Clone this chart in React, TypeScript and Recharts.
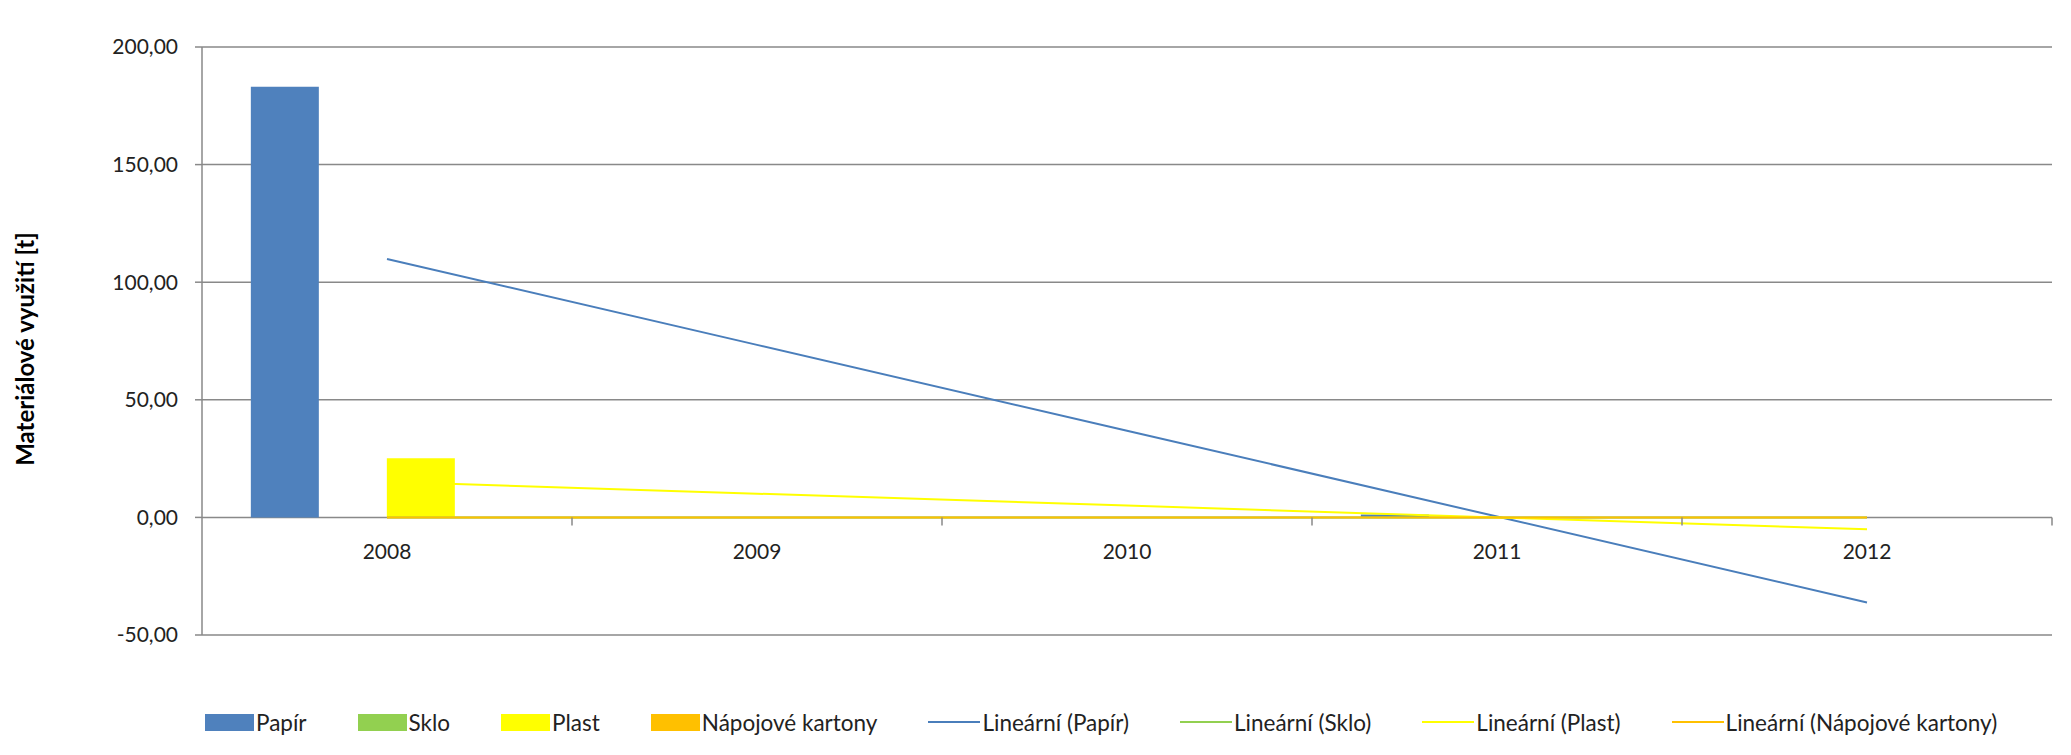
import React from "react";
import {
  Bar, CartesianGrid, ComposedChart, Line, XAxis, YAxis,
} from "recharts";

const years = ["2008", "2009", "2010", "2011", "2012"];
const papir = [183.1, 0, 0, 1.2, 0];
const sklo = [0, 0, 0, 0, 0];
const plast = [25.2, 0, 0, 0, 0];
const napojove = [0, 0, 0, 0, 0];
const yTicks = [-50, 0, 50, 100, 150, 200];

const series = [
  { key: "papir", name: "Papír", values: papir, color: "#4F81BD", trend: "#4A7EBB" },
  { key: "sklo", name: "Sklo", values: sklo, color: "#92D050", trend: "#92D050" },
  { key: "plast", name: "Plast", values: plast, color: "#FFFF00", trend: "#FFFF00" },
  { key: "napojove", name: "Nápojové kartony", values: napojove, color: "#FFC000", trend: "#FFC000" },
];

// least squares line, same as Excel's "Lineární" trendline
function linearTrend(vals: number[]) {
  const n = vals.length;
  const mx = (n - 1) / 2;
  const my = vals.reduce((a, b) => a + b, 0) / n;
  let num = 0, den = 0;
  vals.forEach((v, i) => { num += (i - mx) * (v - my); den += (i - mx) ** 2; });
  const k = num / den;
  return vals.map((_, i) => my + k * (i - mx));
}

const data = years.map((year, i) => {
  const row: Record<string, number | string> = { year };
  series.forEach((s) => {
    row[s.key] = s.values[i];
    row[s.key + "Trend"] = linearTrend(s.values)[i];
  });
  return row;
});

const W = 2063;
const H = 640;
const MARGIN = { top: 39, right: 19, bottom: 12, left: 0 };
const Y_AXIS_W = 194;
const X_AXIS_H = 1;
const PLOT_H = H - MARGIN.top - MARGIN.bottom - X_AXIS_H;
const PLOT_W = W - Y_AXIS_W - MARGIN.right;
const Y_MIN = -50;
const Y_MAX = 200;
const FONT = "Lato, 'Open Sans', sans-serif";
const GRID = "#898989";

const fmt = (v: number) => v.toFixed(2).replace(".", ",");

function YearTick(props: any) {
  const { x, y, payload } = props;
  // category axis crosses the value axis at 0
  const zeroY = y - (PLOT_H * (0 - Y_MIN)) / (Y_MAX - Y_MIN);
  const half = PLOT_W / years.length / 2;
  return (
    <g>
      <line x1={x + half} x2={x + half} y1={zeroY} y2={zeroY + 8} stroke={GRID} strokeWidth={1.5} />
      <text x={x} y={zeroY + 33} textAnchor="middle" dominantBaseline="central"
        fontSize={21} fontFamily={FONT} fill="#222">
        {payload.value}
      </text>
    </g>
  );
}

function AxisTitle(props: any) {
  const vb = props.viewBox;
  const cx = 16;
  const cy = vb.y + vb.height / 2 + 8;
  return (
    <text x={cx} y={cy} transform={`rotate(-90 ${cx} ${cy})`} textAnchor="middle"
      dominantBaseline="central" fontSize={24} fontWeight={700} fontFamily={FONT} fill="#000">
      Materiálové využití [t]
    </text>
  );
}

function ChartLegend() {
  const items = [
    ...series.map((s) => ({ label: s.name, color: s.color, bar: true })),
    ...series.map((s) => ({ label: `Lineární (${s.name})`, color: s.trend, bar: false })),
  ];
  return (
    <div style={{
      display: "flex", alignItems: "center", marginTop: 64, paddingLeft: 197, height: 20,
      fontFamily: FONT, fontSize: 22.5, color: "#222", whiteSpace: "nowrap",
    }}>
      {items.map((it) => (
        <div key={it.label} style={{ display: "flex", alignItems: "center", marginRight: 51 }}>
          {it.bar ? (
            <span style={{ width: 49, height: 17, background: it.color, display: "inline-block" }} />
          ) : (
            <span style={{ width: 52, height: 2.5, background: it.color, display: "inline-block" }} />
          )}
          <span style={{ marginLeft: 2 }}>{it.label}</span>
        </div>
      ))}
    </div>
  );
}

export default function App() {
  return (
    <div style={{ width: W, height: 735, background: "#fff" }}>
      <ComposedChart width={W} height={H} data={data} margin={MARGIN}
        barCategoryGap="13.2%" barGap={0}>
        <CartesianGrid vertical={false} stroke={GRID} strokeWidth={1.5} />
        <XAxis dataKey="year" height={X_AXIS_H} axisLine={false} tickLine={false}
          tickSize={0} tickMargin={0} tick={<YearTick />} interval={0} />
        <YAxis domain={[Y_MIN, Y_MAX]} ticks={yTicks} width={Y_AXIS_W} tickFormatter={fmt}
          axisLine={{ stroke: GRID, strokeWidth: 1.5 }} tickLine={{ stroke: GRID, strokeWidth: 1.5 }}
          tickSize={7} tickMargin={17} allowDataOverflow
          tick={{ fontSize: 21, fontFamily: FONT, fill: "#222" }}
          label={<AxisTitle />} />
        {series.map((s) => (
          <Bar key={s.key} dataKey={s.key} name={s.name} fill={s.color} isAnimationActive={false} />
        ))}
        {series.map((s) => (
          <Line key={s.key + "Trend"} dataKey={s.key + "Trend"} name={`Lineární (${s.name})`}
            type="linear" stroke={s.trend} strokeWidth={2} dot={false} activeDot={false}
            legendType="none" isAnimationActive={false} />
        ))}
      </ComposedChart>
      <ChartLegend />
    </div>
  );
}
